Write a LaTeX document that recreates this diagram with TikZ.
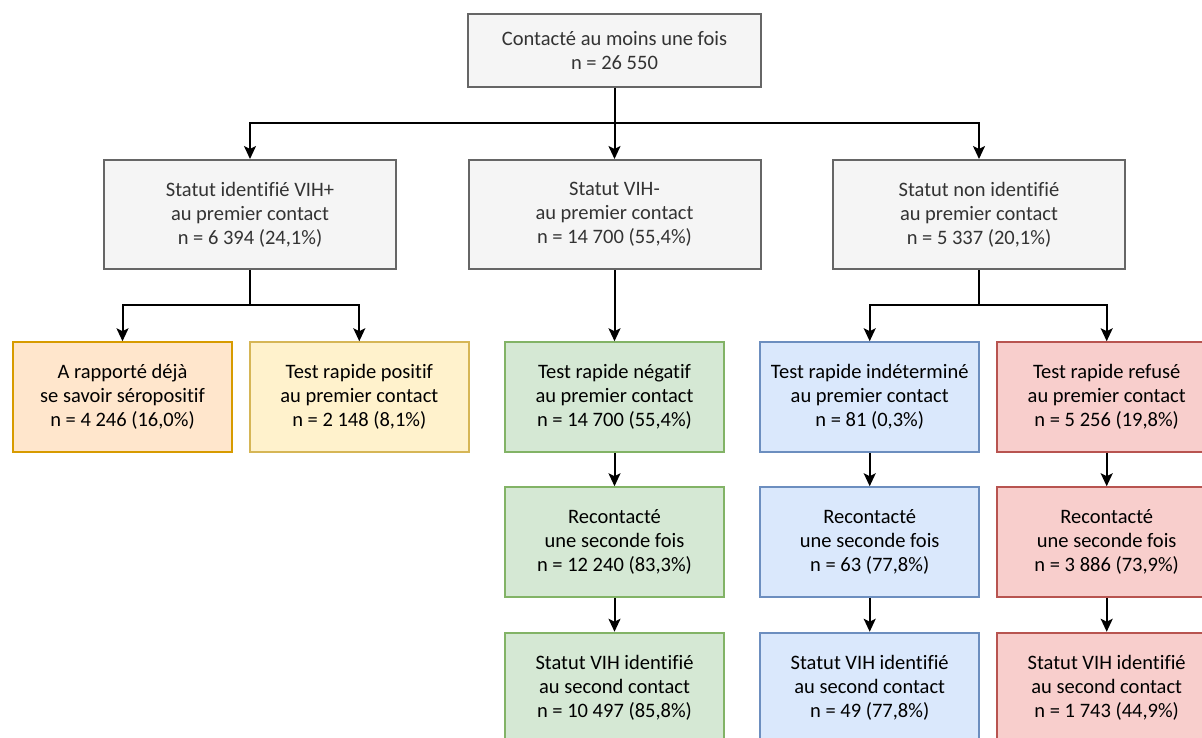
\documentclass[tikz,border=0pt]{standalone}
\usepackage{fontspec}
\setmainfont[Ligatures=NoCommon]{Carlito}
\usetikzlibrary{arrows.meta}
\definecolor{gfill}{HTML}{F5F5F5}
\definecolor{gdraw}{HTML}{666666}
\definecolor{gtext}{HTML}{333333}
\definecolor{ofill}{HTML}{FFE6CC}
\definecolor{odraw}{HTML}{D79B00}
\definecolor{yfill}{HTML}{FFF2CC}
\definecolor{ydraw}{HTML}{D6B656}
\definecolor{grfill}{HTML}{D5E8D4}
\definecolor{grdraw}{HTML}{82B366}
\definecolor{bfill}{HTML}{DAE8FC}
\definecolor{bdraw}{HTML}{6C8EBF}
\definecolor{rfill}{HTML}{F8CECC}
\definecolor{rdraw}{HTML}{B85450}
\tikzset{
  box/.style={draw, line width=2pt, align=center, inner sep=0pt,
    font=\fontsize{20.5}{24}\selectfont, text=black},
  graybox/.style={box, fill=gfill, draw=gdraw, text=gtext, minimum width=292pt, minimum height=109pt},
  smallbox/.style={box, minimum width=219pt, minimum height=109.5pt},
  orangebox/.style={smallbox, fill=ofill, draw=odraw},
  yellowbox/.style={smallbox, fill=yfill, draw=ydraw},
  greenbox/.style={smallbox, fill=grfill, draw=grdraw},
  bluebox/.style={smallbox, fill=bfill, draw=bdraw},
  redbox/.style={smallbox, fill=rfill, draw=rdraw},
  wire/.style={line width=2pt, draw=black},
  conn/.style={wire, -{Stealth[length=13pt,width=12pt,inset=3pt]}}
}
\begin{document}
\begin{tikzpicture}[x=1pt,y=-1pt]
\useasboundingbox (0,0) rectangle (1202,738);
\clip (0,0) rectangle (1202,738);
% top
\node[graybox, minimum height=73pt, minimum width=293pt] (top) at (614.5,50.5) {Contacté au moins une fois\\n = 26 550};
% level 2
\node[graybox] (pos) at (250,214.5) {Statut identifié VIH+\\au premier contact\\n = 6 394 (24,1\%)};
\node[graybox] (neg) at (614.5,214.5) {Statut VIH-\\au premier contact\\n = 14 700 (55,4\%)};
\node[graybox] (unk) at (979,214.5) {Statut non identifié\\au premier contact\\n = 5 337 (20,1\%)};
% level 3
\node[orangebox] (self) at (122.5,397) {A rapporté déjà\\se savoir séropositif\\n = 4 246 (16,0\%)};
\node[yellowbox] (tpos) at (359.3,397) {Test rapide positif\\au premier contact\\n = 2 148 (8,1\%)};
\node[greenbox] (tneg) at (614.5,397) {Test rapide négatif\\au premier contact\\n = 14 700 (55,4\%)};
\node[bluebox] (tind) at (869.7,397) {Test rapide indéterminé\\au premier contact\\n = 81 (0,3\%)};
\node[redbox] (tref) at (1106.7,397) {Test rapide refusé\\au premier contact\\n = 5 256 (19,8\%)};
% level 4
\node[greenbox] (rneg) at (614.5,542) {Recontacté\\une seconde fois\\n = 12 240 (83,3\%)};
\node[bluebox] (rind) at (869.7,542) {Recontacté\\une seconde fois\\n = 63 (77,8\%)};
\node[redbox] (rref) at (1106.7,542) {Recontacté\\une seconde fois\\n = 3 886 (73,9\%)};
% level 5
\node[greenbox] (sneg) at (614.5,687.5) {Statut VIH identifié\\au second contact\\n = 10 497 (85,8\%)};
\node[bluebox] (sind) at (869.7,687.5) {Statut VIH identifié\\au second contact\\n = 49 (77,8\%)};
\node[redbox] (sref) at (1106.7,687.5) {Statut VIH identifié\\au second contact\\n = 1 743 (44,9\%)};
% junctions
\coordinate (j1) at (614.5,123);
\coordinate (j2) at (250,305);
\coordinate (j3) at (979,305);
% connectors
\draw[wire] (top.south) -- (j1);
\draw[conn] (j1) -| (pos.north);
\draw[conn] (j1) -| (unk.north);
\draw[conn] (j1) -- (neg.north);
\draw[wire] (pos.south) -- (j2);
\draw[conn] (j2) -| (self.north);
\draw[conn] (j2) -| (tpos.north);
\draw[conn] (neg.south) -- (tneg.north);
\draw[wire] (unk.south) -- (j3);
\draw[conn] (j3) -| (tind.north);
\draw[conn] (j3) -| (tref.north);
\draw[conn] (tneg.south) -- (rneg.north);
\draw[conn] (tind.south) -- (rind.north);
\draw[conn] (tref.south) -- (rref.north);
\draw[conn] (rneg.south) -- (sneg.north);
\draw[conn] (rind.south) -- (sind.north);
\draw[conn] (rref.south) -- (sref.north);
\end{tikzpicture}
\end{document}
